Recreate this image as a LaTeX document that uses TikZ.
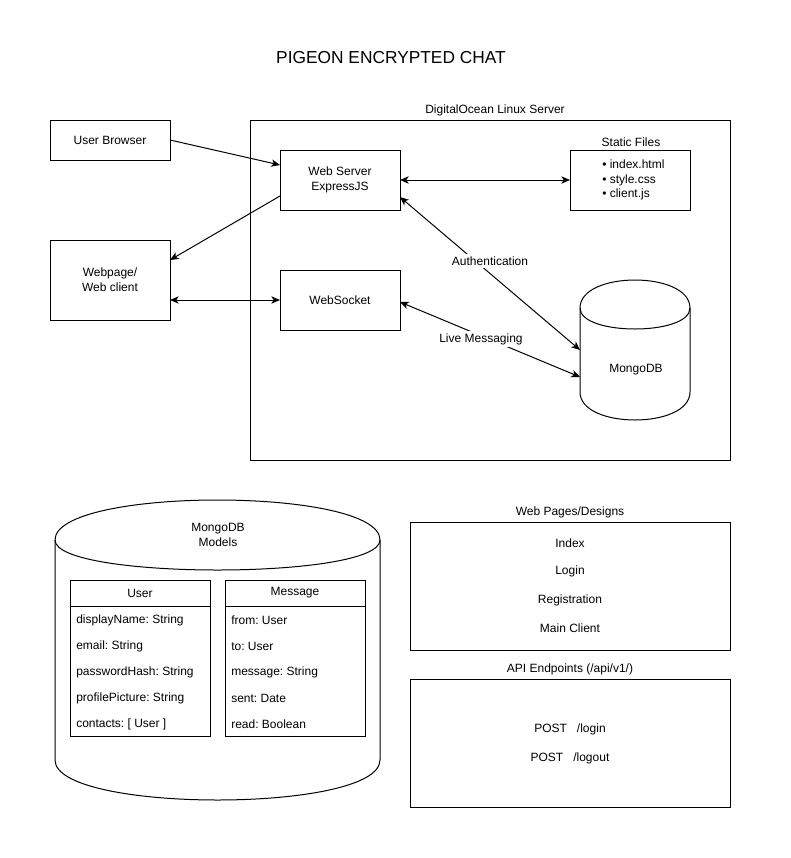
\documentclass[tikz,border=0pt]{standalone}
\usepackage{fontspec}
\setmainfont{Liberation Sans}
\usetikzlibrary{arrows.meta,calc}
\begin{document}
\frenchspacing
\begin{tikzpicture}[x=0.75pt,y=-0.75pt,
  every node/.style={font=\fontsize{9pt}{11pt}\selectfont\frenchspacing},
  box/.style={draw,line width=0.75pt,inner sep=0pt,outer sep=0pt,align=center},
  lbl/.style={inner sep=0pt,align=center},
  conn/.style={line width=0.75pt,-{Stealth[length=6.5pt,width=5.5pt,inset=1.8pt]}},
  bconn/.style={line width=0.75pt,{Stealth[length=6.5pt,width=5.5pt,inset=1.8pt]}-{Stealth[length=6.5pt,width=5.5pt,inset=1.8pt]}},
  shapeline/.style={line width=0.75pt}]
\useasboundingbox (0,0) rectangle (791,858);
\fill[white] (0,0) rectangle (791,858);

% title
\node[lbl,font=\fontsize{13pt}{15pt}\selectfont] (title) at (391,58) {PIGEON ENCRYPTED CHAT};

% server frame
\node[box,minimum width=360pt,minimum height=255pt] (server) at (490,290) {};
\node[lbl] (serverlbl) at (495,110) {DigitalOcean Linux Server};

% boxes
\node[box,minimum width=90pt,minimum height=30pt] (ub) at (110,140) {User Browser};
\node[box,minimum width=90pt,minimum height=45pt] (web) at (340,180) {Web Server\\ExpressJS};
\node[box,minimum width=90pt,minimum height=45pt] (static) at (630,180) {};
\node[lbl] (staticlbl) at (631,142) {Static Files};
\node[lbl,anchor=west,align=left,font=\fontsize{9pt}{10.9pt}\selectfont] (files) at (602,180) {\textbullet\ index.html\\\textbullet\ style.css\\\textbullet\ client.js};
\node[box,minimum width=90pt,minimum height=60pt] (page) at (110,280) {Webpage/\\Web client};
\node[box,minimum width=90pt,minimum height=45pt] (sock) at (340,300) {WebSocket};

% MongoDB cylinder
\node[inner sep=0pt,outer sep=0pt,minimum width=82.5pt,minimum height=105pt] (mongo) at (635,350) {};
\draw[shapeline] (580,308) .. controls (580,270.67) and (690,270.67) .. (690,308) -- (690,392)
   .. controls (690,429.33) and (580,429.33) .. (580,392) -- cycle;
\draw[shapeline] (580,308) .. controls (580,336) and (690,336) .. (690,308);
\node[lbl] (mongolbl) at (636,370) {MongoDB};

% connectors
\draw[conn] (ub.east) -- ($(web.west)+(0,-15)$);
\draw[conn] ($(web.west)+(0,16)$) -- ($(page.east)+(0,-20)$);
\draw[bconn] ($(page.east)+(0,20)$) -- (sock.west);
\draw[bconn] (web.east) -- (static.west);
\draw[bconn] ($(web.east)+(0,17)$) -- (mongo.west);
\draw[bconn] ($(sock.east)+(0,2)$) -- ($(mongo.west)+(0,27)$);
\node[lbl,fill=white,inner sep=2pt] (auth) at (490,261) {Authentication};
\node[lbl,fill=white,inner sep=2pt] (live) at (481,339) {Live Messaging};

% MongoDB models cylinder
\draw[shapeline] (55,540) .. controls (55,486.67) and (380,486.67) .. (380,540) -- (380,760)
   .. controls (380,813.33) and (55,813.33) .. (55,760) -- cycle;
\draw[shapeline] (55,540) .. controls (55,580) and (380,580) .. (380,540);
\node[lbl] (models) at (218,535) {MongoDB\\Models};

% User table
\node[box,minimum width=105pt,minimum height=19.5pt] (userh) at (140,593) {User};
\node[box,minimum width=105pt,minimum height=97.5pt,anchor=north] (userb) at (userh.south) {};
\node[lbl,anchor=west] (u1) at (76,620) {displayName: String};
\node[lbl,anchor=west] (u2) at (76,646) {email: String};
\node[lbl,anchor=west] (u3) at (76,672) {passwordHash: String};
\node[lbl,anchor=west] (u4) at (76,698) {profilePicture: String};
\node[lbl,anchor=west] (u5) at (76,724) {contacts: [ User ]};

% Message table
\node[box,minimum width=105pt,minimum height=19.5pt] (msgh) at (295,593) {Message};
\node[box,minimum width=105pt,minimum height=97.5pt,anchor=north] (msgb) at (msgh.south) {};
\node[lbl,anchor=west] (m1) at (231,620) {from: User};
\node[lbl,anchor=west] (m2) at (231,646) {to: User};
\node[lbl,anchor=west] (m3) at (231,672) {message: String};
\node[lbl,anchor=west] (m4) at (231,698) {sent: Date};
\node[lbl,anchor=west] (m5) at (231,724) {read: Boolean};

% Web pages
\node[lbl] (pageslbl) at (570,512) {Web Pages/Designs};
\node[box,minimum width=240pt,minimum height=96pt] (pages) at (570,586) {};
\node[lbl] (p1) at (570,543) {Index};
\node[lbl] (p2) at (570,571) {Login};
\node[lbl] (p3) at (570,600) {Registration};
\node[lbl] (p4) at (570,628) {Main Client};

% API endpoints
\node[lbl] (apilbl) at (570,669) {API Endpoints (/api/v1/)};
\node[box,minimum width=240pt,minimum height=96pt] (api) at (570,743) {};
\node[lbl] (a1) at (570,729) {POST\ \ \ /login};
\node[lbl] (a2) at (570,758) {POST\ \ \ /logout};
\end{tikzpicture}
\end{document}
